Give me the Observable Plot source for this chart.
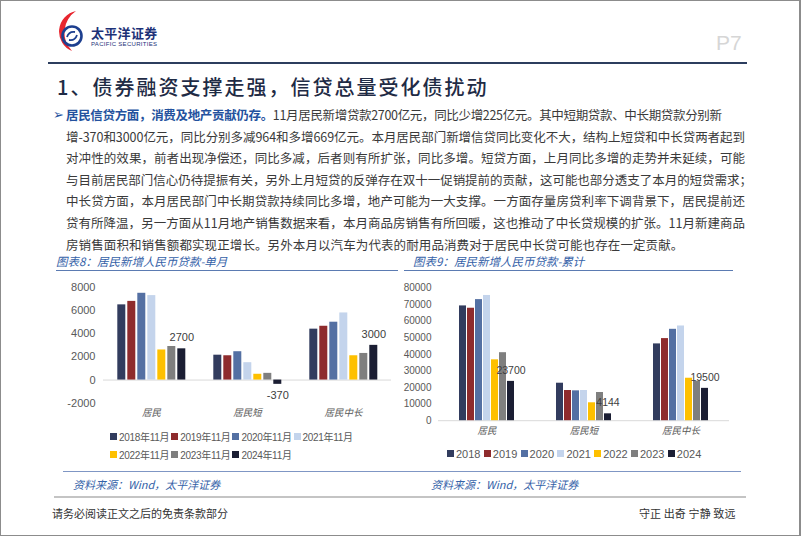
<!DOCTYPE html>
<html><head><meta charset="utf-8">
<script src="https://cdn.jsdelivr.net/npm/d3@7"></script>
<script src="https://cdn.jsdelivr.net/npm/@observablehq/plot@0.6"></script>
<style>
html,body{margin:0;padding:0;background:#fff;}
body{width:802px;height:537px;position:relative;overflow:hidden;font-family:"Noto Sans CJK SC",sans-serif;}
.abs{position:absolute;}
.frame{position:absolute;left:0;top:0;width:801px;height:536px;box-sizing:border-box;border:1px solid #8c8c8c;border-right:2px solid #8c8c8c;}
.pl{position:absolute;height:18px;line-height:18px;font-size:12.5px;color:#3a3a3a;white-space:nowrap;display:inline-block;}
.pl b{color:#24529e;font-weight:700;}
.ct{position:absolute;font-size:11.5px;line-height:16px;height:16px;color:#3562a8;font-style:italic;white-space:nowrap;}
.src{position:absolute;font-size:11px;line-height:16px;color:#3562a8;font-style:italic;white-space:nowrap;}
.foot{position:absolute;font-size:11px;line-height:16px;color:#333;white-space:nowrap;}
.legend{position:absolute;display:flex;flex-wrap:wrap;font-family:"Liberation Sans Narrow","Liberation Sans","Noto Sans CJK SC",sans-serif;color:#595959;}
.legend .it{display:flex;align-items:center;white-space:nowrap;}
.legend .sw{width:7px;height:7px;margin-right:2px;flex:none;}
.chart{position:absolute;}
.chart [aria-label^="fx-axis"]{font-family:"Noto Sans CJK SC",sans-serif;font-style:italic;font-size:9.5px;fill:#595959;}
</style></head>
<body>
<div class="frame"></div>

<svg class="abs" style="left:50px;top:8px" width="36" height="46" viewBox="50 8 36 46">
  <path d="M76,11 A21,21 0 0 0 72,51 A26,26 0 0 1 76,11 Z" fill="#e8262f"/>
  <circle cx="72" cy="36" r="9.5" fill="none" stroke="#1d3f8f" stroke-width="2.6"/>
  <path d="M67,37 Q69,31 75,32 M77,35 Q75,41 69,40" fill="none" stroke="#1d3f8f" stroke-width="1.8"/>
</svg>
<div class="abs" style="left:91px;top:25px;font-size:13px;line-height:15px;font-weight:700;color:#1d3278;letter-spacing:0.3px;white-space:nowrap;">太平洋证券</div>
<div class="abs" style="left:91px;top:40.5px;font-size:6px;line-height:7px;color:#1d3278;letter-spacing:0.3px;white-space:nowrap;font-family:'Liberation Sans',sans-serif;">PACIFIC SECURITIES</div>
<div class="abs" style="left:716px;top:30px;font-size:21px;line-height:26px;color:#d6d6d6;font-family:'Liberation Sans Narrow','Liberation Sans',sans-serif;">P7</div>
<div class="abs" style="left:48px;top:62px;width:699px;height:2px;background:#2c3d5e;"></div>
<div class="abs" style="left:57px;top:74px;font-size:20px;line-height:26px;font-weight:500;color:#1f2b45;letter-spacing:2px;white-space:nowrap;">1、债券融资支撑走强，信贷总量受化债扰动</div>

<div class="abs" style="left:53px;top:106px;font-size:13px;line-height:18px;color:#24529e;font-family:'DejaVu Sans',sans-serif;">➢</div>
<div class="pl" data-w="656" style="left:66px;top:106px;"><b>居民信贷方面，消费及地产贡献仍存。</b>11月居民新增贷款2700亿元，同比少增225亿元。其中短期贷款、中长期贷款分别新</div>
<div class="pl" data-w="679" style="left:66px;top:127.6px;">增-370和3000亿元，同比分别多减964和多增669亿元。本月居民部门新增信贷同比变化不大，结构上短贷和中长贷两者起到</div>
<div class="pl" data-w="679" style="left:66px;top:149.2px;">对冲性的效果，前者出现净偿还，同比多减，后者则有所扩张，同比多增。短贷方面，上月同比多增的走势并未延续，可能</div>
<div class="pl" data-w="686" style="left:66px;top:170.8px;">与目前居民部门信心仍待提振有关，另外上月短贷的反弹存在双十一促销提前的贡献，这可能也部分透支了本月的短贷需求；</div>
<div class="pl" data-w="679" style="left:66px;top:192.4px;">中长贷方面，本月居民部门中长期贷款持续同比多增，地产可能为一大支撑。一方面存量房贷利率下调背景下，居民提前还</div>
<div class="pl" data-w="679" style="left:66px;top:214px;">贷有所降温，另一方面从11月地产销售数据来看，本月商品房销售有所回暖，这也推动了中长贷规模的扩张。11月新建商品</div>
<div class="pl" style="left:66px;top:235.6px;letter-spacing:0.1px;">房销售面积和销售额都实现正增长。另外本月以汽车为代表的耐用品消费对于居民中长贷可能也存在一定贡献。</div>

<div class="ct" style="left:56px;top:253px;">图表8：居民新增人民币贷款-单月</div>
<div class="abs" style="left:56px;top:270px;width:342px;height:1px;background:#5b7bb2;"></div>
<div class="ct" style="left:413px;top:253px;">图表9：居民新增人民币贷款-累计</div>
<div class="abs" style="left:404px;top:270px;width:329px;height:1px;background:#5b7bb2;"></div>

<div id="c1" class="chart" style="left:50px;top:277px;"></div>
<div id="c2" class="chart" style="left:400px;top:277px;"></div>
<div id="l1" class="legend" style="left:110px;top:427px;width:250px;font-size:10px;letter-spacing:-0.3px;"></div>
<div id="l2" class="legend" style="left:447px;top:444.5px;width:270px;font-size:11px;"></div>

<div class="abs" style="left:63px;top:470.5px;width:678px;height:1.5px;background:#7f96c4;"></div>
<div class="src" style="left:73px;top:476px;">资料来源：Wind，太平洋证券</div>
<div class="src" style="left:431px;top:476px;">资料来源：Wind，太平洋证券</div>
<div class="abs" style="left:54px;top:495.5px;width:692px;height:2.5px;background:#c4c4c4;"></div>
<div class="foot" style="left:52px;top:505px;">请务必阅读正文之后的免责条款部分</div>
<div class="foot" style="left:639px;top:505px;letter-spacing:0.1px;">守正 出奇 宁静 致远</div>

<script>
const categories = ["居民", "居民短", "居民中长"];
const monthKeys = ["2018年11月", "2019年11月", "2020年11月", "2021年11月", "2022年11月", "2023年11月", "2024年11月"];
const yearKeys = ["2018", "2019", "2020", "2021", "2022", "2023", "2024"];
const seriesColors = ["#323c5e", "#8e2b2d", "#5470a3", "#c4d4ec", "#fec000", "#7f7f7f", "#1b1e33"];

const monthlyResident = [6500, 6800, 7500, 7300, 2600, 2900, 2700];
const monthlyShort = [2150, 2100, 2450, 1500, 500, 580, -370];
const monthlyMidLong = [4400, 4650, 5000, 5800, 2100, 2300, 3000];

const cumulativeResident = [69200, 67800, 73000, 75500, 36700, 41000, 23700];
const cumulativeShort = [22600, 18200, 18000, 18200, 10800, 17000, 4144];
const cumulativeMidLong = [46300, 49500, 55100, 57100, 25600, 23800, 19500];

const monthlyTicks = [-2000, 0, 2000, 4000, 6000, 8000];
const cumulativeTicks = [0, 10000, 20000, 30000, 40000, 50000, 60000, 70000, 80000];

const NUMFONT = "'Liberation Sans Narrow','Liberation Sans','Noto Sans CJK SC',sans-serif";

function toRows(keys, seriesList) {
  return categories.flatMap((cat, i) => keys.map((key, j) => ({cat, key, value: seriesList[i][j]})));
}

function groupedBars(o) {
  const last = o.keys[o.keys.length - 1];
  const labels = o.rows.filter(d => d.key === last);
  return Plot.plot({
    width: o.width, height: o.height,
    marginLeft: o.ml, marginRight: o.mr, marginTop: o.mt, marginBottom: o.mb,
    style: {fontFamily: NUMFONT, fontSize: o.fs + "px", color: "#595959", background: "transparent", overflow: "visible"},
    fx: {domain: categories, padding: 0, axis: "bottom", label: null, tickSize: 0, tickPadding: o.fxPad},
    x: {domain: o.keys, axis: null, paddingInner: o.pi, paddingOuter: o.po, align: 0.5},
    y: {domain: o.yDomain, ticks: o.ticks, tickSize: 0, tickPadding: o.yPad, label: null, tickFormat: d => String(d)},
    color: {domain: o.keys, range: seriesColors},
    marks: [
      Plot.ruleY([0], {stroke: "#d9d9d9", strokeWidth: 1}),
      Plot.barY(o.rows, {fx: "cat", x: "key", y: "value", fill: "key"}),
      Plot.text(labels.filter(d => d.value >= 0), {fx: "cat", x: "key", y: "value", text: d => String(d.value), dy: -o.labelDy, fill: "#404040", fontSize: o.lfs}),
      Plot.text(labels.filter(d => d.value < 0), {fx: "cat", x: "key", y: "value", text: d => String(d.value), dy: o.labelDy, fill: "#404040", fontSize: o.lfs})
    ]
  });
}

document.getElementById("c1").append(groupedBars({
  rows: toRows(monthKeys, [monthlyResident, monthlyShort, monthlyMidLong]),
  keys: monthKeys, yDomain: [-2000, 8000], ticks: monthlyTicks,
  width: 350, height: 148, ml: 51.7, mr: 8.3, mt: 10, mb: 22.3,
  pi: 0.17, po: 1.03, fs: 11, lfs: 11, yPad: 8, fxPad: 6, labelDy: 11
}));

document.getElementById("c2").append(groupedBars({
  rows: toRows(yearKeys, [cumulativeResident, cumulativeShort, cumulativeMidLong]),
  keys: yearKeys, yDomain: [0, 80000], ticks: cumulativeTicks,
  width: 340, height: 165, ml: 37, mr: 10, mt: 10.5, mb: 21.8,
  pi: 0.17, po: 2.1, fs: 10, lfs: 10.5, yPad: 7, fxPad: 7, labelDy: 11
}));

function legend(id, keys, itemWidth, rowHeight) {
  const el = document.getElementById(id);
  keys.forEach((k, i) => {
    const it = document.createElement("div");
    it.className = "it";
    it.style.width = itemWidth + "px";
    it.style.height = rowHeight + "px";
    const sw = document.createElement("span");
    sw.className = "sw";
    sw.style.background = seriesColors[i];
    const tx = document.createElement("span");
    tx.textContent = k;
    it.append(sw, tx);
    el.append(it);
  });
}
legend("l1", monthKeys, 61.2, 18.3);
legend("l2", yearKeys, 36.8, 18);

function fitLines() {
  document.querySelectorAll(".pl[data-w]").forEach(el => {
    el.style.letterSpacing = "0px";
    const natural = el.getBoundingClientRect().width;
    const n = [...el.textContent].length;
    const ls = (+el.dataset.w - natural) / (n - 1);
    el.style.letterSpacing = ls + "px";
  });
}
fitLines();
if (document.fonts && document.fonts.ready) document.fonts.ready.then(fitLines);
</script>
</body></html>
